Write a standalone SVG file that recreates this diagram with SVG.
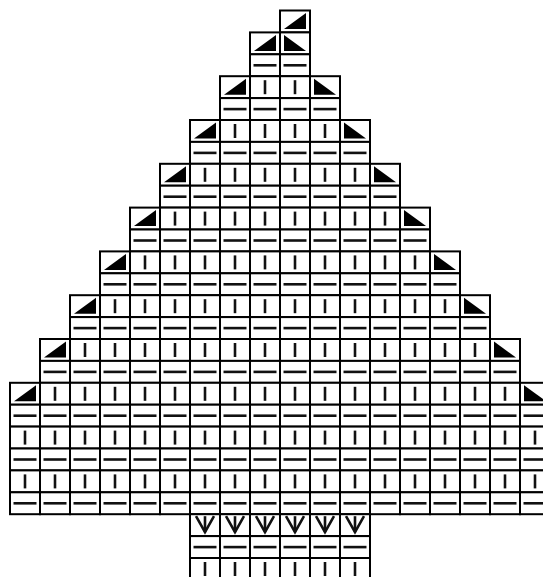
<svg xmlns="http://www.w3.org/2000/svg" width="543" height="577" viewBox="0 0 543 577">
<style>
.b{fill:#fff;stroke:#000;stroke-width:2}
.s{stroke:#111;stroke-width:2.6;fill:none}
.w{fill:#000}
</style>
<defs>
<g id="K"><rect class="b" width="30" height="21.9"/><line class="s" x1="15" y1="4" x2="15" y2="18"/></g>
<g id="P"><rect class="b" width="30" height="21.9"/><line class="s" x1="3.5" y1="11" x2="26.5" y2="11"/></g>
<g id="L"><rect class="b" width="30" height="21.9"/><polygon class="w" points="4,18.5 26,2.5 26,18.5"/></g>
<g id="R"><rect class="b" width="30" height="21.9"/><polygon class="w" points="4,2.5 4,18.5 26,18.5"/></g>
<g id="V"><rect class="b" width="30" height="21.9"/><polyline class="s" points="6,2 15,18 24,2"/><line class="s" x1="15" y1="2" x2="15" y2="18"/></g>
</defs>
<g id="chart">
<g id="row-0" transform="translate(0,10.5)"><use href="#L" x="280"/></g>
<g id="row-1" transform="translate(0,32.4)"><use href="#L" x="250"/><use href="#R" x="280"/></g>
<g id="row-2" transform="translate(0,54.3)"><use href="#P" x="250"/><use href="#P" x="280"/></g>
<g id="row-3" transform="translate(0,76.2)"><use href="#L" x="220"/><use href="#K" x="250"/><use href="#K" x="280"/><use href="#R" x="310"/></g>
<g id="row-4" transform="translate(0,98.1)"><use href="#P" x="220"/><use href="#P" x="250"/><use href="#P" x="280"/><use href="#P" x="310"/></g>
<g id="row-5" transform="translate(0,120)"><use href="#L" x="190"/><use href="#K" x="220"/><use href="#K" x="250"/><use href="#K" x="280"/><use href="#K" x="310"/><use href="#R" x="340"/></g>
<g id="row-6" transform="translate(0,141.9)"><use href="#P" x="190"/><use href="#P" x="220"/><use href="#P" x="250"/><use href="#P" x="280"/><use href="#P" x="310"/><use href="#P" x="340"/></g>
<g id="row-7" transform="translate(0,163.8)"><use href="#L" x="160"/><use href="#K" x="190"/><use href="#K" x="220"/><use href="#K" x="250"/><use href="#K" x="280"/><use href="#K" x="310"/><use href="#K" x="340"/><use href="#R" x="370"/></g>
<g id="row-8" transform="translate(0,185.7)"><use href="#P" x="160"/><use href="#P" x="190"/><use href="#P" x="220"/><use href="#P" x="250"/><use href="#P" x="280"/><use href="#P" x="310"/><use href="#P" x="340"/><use href="#P" x="370"/></g>
<g id="row-9" transform="translate(0,207.6)"><use href="#L" x="130"/><use href="#K" x="160"/><use href="#K" x="190"/><use href="#K" x="220"/><use href="#K" x="250"/><use href="#K" x="280"/><use href="#K" x="310"/><use href="#K" x="340"/><use href="#K" x="370"/><use href="#R" x="400"/></g>
<g id="row-10" transform="translate(0,229.5)"><use href="#P" x="130"/><use href="#P" x="160"/><use href="#P" x="190"/><use href="#P" x="220"/><use href="#P" x="250"/><use href="#P" x="280"/><use href="#P" x="310"/><use href="#P" x="340"/><use href="#P" x="370"/><use href="#P" x="400"/></g>
<g id="row-11" transform="translate(0,251.4)"><use href="#L" x="100"/><use href="#K" x="130"/><use href="#K" x="160"/><use href="#K" x="190"/><use href="#K" x="220"/><use href="#K" x="250"/><use href="#K" x="280"/><use href="#K" x="310"/><use href="#K" x="340"/><use href="#K" x="370"/><use href="#K" x="400"/><use href="#R" x="430"/></g>
<g id="row-12" transform="translate(0,273.3)"><use href="#P" x="100"/><use href="#P" x="130"/><use href="#P" x="160"/><use href="#P" x="190"/><use href="#P" x="220"/><use href="#P" x="250"/><use href="#P" x="280"/><use href="#P" x="310"/><use href="#P" x="340"/><use href="#P" x="370"/><use href="#P" x="400"/><use href="#P" x="430"/></g>
<g id="row-13" transform="translate(0,295.2)"><use href="#L" x="70"/><use href="#K" x="100"/><use href="#K" x="130"/><use href="#K" x="160"/><use href="#K" x="190"/><use href="#K" x="220"/><use href="#K" x="250"/><use href="#K" x="280"/><use href="#K" x="310"/><use href="#K" x="340"/><use href="#K" x="370"/><use href="#K" x="400"/><use href="#K" x="430"/><use href="#R" x="460"/></g>
<g id="row-14" transform="translate(0,317.1)"><use href="#P" x="70"/><use href="#P" x="100"/><use href="#P" x="130"/><use href="#P" x="160"/><use href="#P" x="190"/><use href="#P" x="220"/><use href="#P" x="250"/><use href="#P" x="280"/><use href="#P" x="310"/><use href="#P" x="340"/><use href="#P" x="370"/><use href="#P" x="400"/><use href="#P" x="430"/><use href="#P" x="460"/></g>
<g id="row-15" transform="translate(0,339)"><use href="#L" x="40"/><use href="#K" x="70"/><use href="#K" x="100"/><use href="#K" x="130"/><use href="#K" x="160"/><use href="#K" x="190"/><use href="#K" x="220"/><use href="#K" x="250"/><use href="#K" x="280"/><use href="#K" x="310"/><use href="#K" x="340"/><use href="#K" x="370"/><use href="#K" x="400"/><use href="#K" x="430"/><use href="#K" x="460"/><use href="#R" x="490"/></g>
<g id="row-16" transform="translate(0,360.9)"><use href="#P" x="40"/><use href="#P" x="70"/><use href="#P" x="100"/><use href="#P" x="130"/><use href="#P" x="160"/><use href="#P" x="190"/><use href="#P" x="220"/><use href="#P" x="250"/><use href="#P" x="280"/><use href="#P" x="310"/><use href="#P" x="340"/><use href="#P" x="370"/><use href="#P" x="400"/><use href="#P" x="430"/><use href="#P" x="460"/><use href="#P" x="490"/></g>
<g id="row-17" transform="translate(0,382.8)"><use href="#L" x="10"/><use href="#K" x="40"/><use href="#K" x="70"/><use href="#K" x="100"/><use href="#K" x="130"/><use href="#K" x="160"/><use href="#K" x="190"/><use href="#K" x="220"/><use href="#K" x="250"/><use href="#K" x="280"/><use href="#K" x="310"/><use href="#K" x="340"/><use href="#K" x="370"/><use href="#K" x="400"/><use href="#K" x="430"/><use href="#K" x="460"/><use href="#K" x="490"/><use href="#R" x="520"/></g>
<g id="row-18" transform="translate(0,404.7)"><use href="#P" x="10"/><use href="#P" x="40"/><use href="#P" x="70"/><use href="#P" x="100"/><use href="#P" x="130"/><use href="#P" x="160"/><use href="#P" x="190"/><use href="#P" x="220"/><use href="#P" x="250"/><use href="#P" x="280"/><use href="#P" x="310"/><use href="#P" x="340"/><use href="#P" x="370"/><use href="#P" x="400"/><use href="#P" x="430"/><use href="#P" x="460"/><use href="#P" x="490"/><use href="#P" x="520"/></g>
<g id="row-19" transform="translate(0,426.6)"><use href="#K" x="10"/><use href="#K" x="40"/><use href="#K" x="70"/><use href="#K" x="100"/><use href="#K" x="130"/><use href="#K" x="160"/><use href="#K" x="190"/><use href="#K" x="220"/><use href="#K" x="250"/><use href="#K" x="280"/><use href="#K" x="310"/><use href="#K" x="340"/><use href="#K" x="370"/><use href="#K" x="400"/><use href="#K" x="430"/><use href="#K" x="460"/><use href="#K" x="490"/><use href="#K" x="520"/></g>
<g id="row-20" transform="translate(0,448.5)"><use href="#P" x="10"/><use href="#P" x="40"/><use href="#P" x="70"/><use href="#P" x="100"/><use href="#P" x="130"/><use href="#P" x="160"/><use href="#P" x="190"/><use href="#P" x="220"/><use href="#P" x="250"/><use href="#P" x="280"/><use href="#P" x="310"/><use href="#P" x="340"/><use href="#P" x="370"/><use href="#P" x="400"/><use href="#P" x="430"/><use href="#P" x="460"/><use href="#P" x="490"/><use href="#P" x="520"/></g>
<g id="row-21" transform="translate(0,470.4)"><use href="#K" x="10"/><use href="#K" x="40"/><use href="#K" x="70"/><use href="#K" x="100"/><use href="#K" x="130"/><use href="#K" x="160"/><use href="#K" x="190"/><use href="#K" x="220"/><use href="#K" x="250"/><use href="#K" x="280"/><use href="#K" x="310"/><use href="#K" x="340"/><use href="#K" x="370"/><use href="#K" x="400"/><use href="#K" x="430"/><use href="#K" x="460"/><use href="#K" x="490"/><use href="#K" x="520"/></g>
<g id="row-22" transform="translate(0,492.3)"><use href="#P" x="10"/><use href="#P" x="40"/><use href="#P" x="70"/><use href="#P" x="100"/><use href="#P" x="130"/><use href="#P" x="160"/><use href="#P" x="190"/><use href="#P" x="220"/><use href="#P" x="250"/><use href="#P" x="280"/><use href="#P" x="310"/><use href="#P" x="340"/><use href="#P" x="370"/><use href="#P" x="400"/><use href="#P" x="430"/><use href="#P" x="460"/><use href="#P" x="490"/><use href="#P" x="520"/></g>
<g id="row-23" transform="translate(0,514.2)"><use href="#V" x="190"/><use href="#V" x="220"/><use href="#V" x="250"/><use href="#V" x="280"/><use href="#V" x="310"/><use href="#V" x="340"/></g>
<g id="row-24" transform="translate(0,536.1)"><use href="#P" x="190"/><use href="#P" x="220"/><use href="#P" x="250"/><use href="#P" x="280"/><use href="#P" x="310"/><use href="#P" x="340"/></g>
<g id="row-25" transform="translate(0,558)"><use href="#K" x="190"/><use href="#K" x="220"/><use href="#K" x="250"/><use href="#K" x="280"/><use href="#K" x="310"/><use href="#K" x="340"/></g>
</g>
</svg>
